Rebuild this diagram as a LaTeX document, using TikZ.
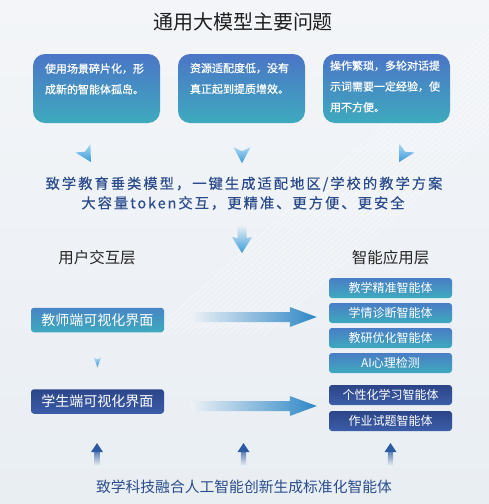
\documentclass[tikz,border=0pt]{standalone}
\usepackage{fontspec}
\setmainfont{Noto Sans CJK SC}
\newfontfamily\spaced[LetterSpace=14,FakeBold=0.4]{Noto Sans CJK SC}
\newfontfamily\semibold[FakeBold=0.6]{Noto Sans CJK SC}
\usetikzlibrary{calc}
\definecolor{bgtop}{HTML}{F3F5F8}
\definecolor{bgbot}{HTML}{E9EEF3}
\definecolor{bgmid}{HTML}{EEF2F6}
\definecolor{boxblue}{HTML}{4B75C6}
\definecolor{boxteal}{HTML}{3EAABE}
\definecolor{navytop}{HTML}{2C4588}
\definecolor{navybot}{HTML}{3C5DA8}
\definecolor{deepblue}{HTML}{2B4C8C}
\definecolor{arrowblue}{HTML}{2E87C6}
\definecolor{lightblue}{HTML}{A9D6F2}
\definecolor{chevblue}{HTML}{3A9BD8}
\definecolor{upblue}{HTML}{2D5BA3}
\begin{document}
\begin{tikzpicture}[x=1pt,y=-1pt,
  topbox/.style={rounded corners=12pt, top color=boxblue, bottom color=boxteal, minimum width=127pt, minimum height=69pt, inner sep=0pt, draw=none},
  boxtxt/.style={anchor=north west, inner sep=0pt, text=white, align=left, font=\fontsize{11}{20.8}\semibold},
  tealbox/.style={rounded corners=3pt, top color=boxblue!85!boxteal, bottom color=boxteal, minimum width=123pt, minimum height=20pt, inner sep=0pt, text=white, font=\fontsize{12}{14}\selectfont},
  navybox/.style={rounded corners=3pt, top color=navytop, bottom color=navybot, minimum width=123pt, minimum height=20pt, inner sep=0pt, text=white, font=\fontsize{12}{14}\selectfont},
  uibox/.style={rounded corners=3pt, minimum width=133pt, minimum height=24.5pt, inner sep=0pt, text=white, font=\fontsize{14}{16}\selectfont},
  header/.style={inner sep=0pt, text=black!85, font=\fontsize{15.5}{18}\selectfont},
  midtxt/.style={inner sep=0pt, text=deepblue, font=\fontsize{14.3}{18}\spaced}
]
\useasboundingbox (0,0) rectangle (489,504);
% background
\shade[top color=bgtop, bottom color=bgbot] (0,0) rectangle (489,504);
\begin{scope}
\clip (0,0) rectangle (489,504);
\foreach \k in {0,...,19}{
  \draw[white, opacity=0.55, line width=0.6pt] (150+\k*6,335) -- ++(380,-342);
}
\end{scope}

% title
\node[inner sep=0pt, text=black!88, font=\fontsize{20}{24}\selectfont] (title) at (243,22) {通用大模型主要问题};

% top boxes
\node[topbox] (b1) at (96.5,88.5) {};
\node[topbox] (b2) at (241.5,88.5) {};
\node[topbox] (b3) at (386.5,88.5) {};
\node[boxtxt] (t1) at ($(b1.north west)+(12,9.5)$) {使用场景碎片化，形\\成新的智能体孤岛。};
\node[boxtxt] (t2) at ($(b2.north west)+(12,9)$) {资源适配度低，没有\\真正起到提质增效。};
\node[boxtxt] (t3) at ($(b3.north west)+(7,6.5)$) {操作繁琐，多轮对话提\\示词需要一定经验，使\\用不方便。};

% chevrons below the top boxes
\coordinate (c1) at ($(b1.south)+(-9.5,32)$);
\coordinate (c2) at ($(b2.south)+(0.5,32)$);
\coordinate (c3) at ($(b3.south)+(16.5,32)$);
\foreach \c/\r in {c1/30,c2/0,c3/-30}{
  \begin{scope}[shift={(\c)}, rotate=\r]
    \shade[top color=lightblue, bottom color=chevblue] (-8.5,-8) -- (0,-4) -- (8.5,-8) -- (0,8) -- cycle;
  \end{scope}
}

% middle text
\node[midtxt] (m1) at (244,184) {致学教育垂类模型，一键生成适配地区/学校的教学方案};
\node[midtxt] (m2) at (243,203) {大容量token交互，更精准、更方便、更安全};

% big down arrow
\coordinate (d1) at ($(m2.south)+(-1,15)$);
\shade[top color=bgmid, bottom color=chevblue] ($(d1)+(-4.5,0)$) -- ($(d1)+(4.5,0)$) -- ($(d1)+(4.5,13)$) -- ($(d1)+(10,12)$) -- ($(d1)+(0,28)$) -- ($(d1)+(-10,12)$) -- ($(d1)+(-4.5,13)$) -- cycle;

% headers
\node[header] (hl) at (97,258) {用户交互层};
\node[header] (hr) at (390.5,258) {智能应用层};

% left boxes
\node[uibox, top color=boxblue!70!boxteal, bottom color=boxteal] (tea) at (97.5,320) {教师端可视化界面};
\node[uibox, top color=navytop, bottom color=navybot] (stu) at (97.5,401.5) {学生端可视化界面};

% small down chevron between left boxes
\coordinate (c4) at ($(tea.south)+(0,30)$);
\shade[top color=lightblue, bottom color=chevblue] ($(c4)+(-3.5,-5)$) -- ($(c4)+(0,-3)$) -- ($(c4)+(3.5,-5)$) -- ($(c4)+(0,5)$) -- cycle;

% right boxes
\node[tealbox] (r1) at (390.5,288) {教学精准智能体};
\node[tealbox] (r2) at (390.5,313) {学情诊断智能体};
\node[tealbox] (r3) at (390.5,338) {教研优化智能体};
\node[tealbox] (r4) at (390.5,363) {AI心理检测};
\node[navybox] (r5) at (390.5,395) {个性化学习智能体};
\node[navybox] (r6) at (390.5,421) {作业试题智能体};

% horizontal arrows
\coordinate (h1s) at ($(tea.east)+(26,-3)$);
\coordinate (h1e) at ($(r2.west)+(-12,4)$);
\coordinate (h2s) at ($(stu.east)+(26,4.5)$);
\coordinate (h2e) at ($(r5.west)+(-12,11)$);
\foreach \s/\e in {h1s/h1e,h2s/h2e}{
  \shade[left color=bgmid, right color=arrowblue]
    ($(\s)+(0,-5)$) -- ($(\e)+(-27,-5)$) -- ($(\e)+(-27,-10)$) -- (\e) -- ($(\e)+(-27,10)$) -- ($(\e)+(-27,5)$) -- ($(\s)+(0,5)$) -- cycle;
}

% bottom text
\node[inner sep=0pt, text=deepblue, font=\fontsize{14.8}{18}\selectfont] (bt) at (244,487) {致学科技融合人工智能创新生成标准化智能体};

% up arrows
\coordinate (u1) at (97,443);
\coordinate (u2) at (243.5,443);
\coordinate (u3) at (390.5,443);
\foreach \u in {u1,u2,u3}{
  \shade[top color=upblue!80, bottom color=bgmid] ($(\u)+(-2.6,8)$) rectangle ($(\u)+(2.6,23)$);
  \fill[upblue] ($(\u)+(-6,9)$) -- (\u) -- ($(\u)+(6,9)$) -- cycle;
}
\end{tikzpicture}
\end{document}
